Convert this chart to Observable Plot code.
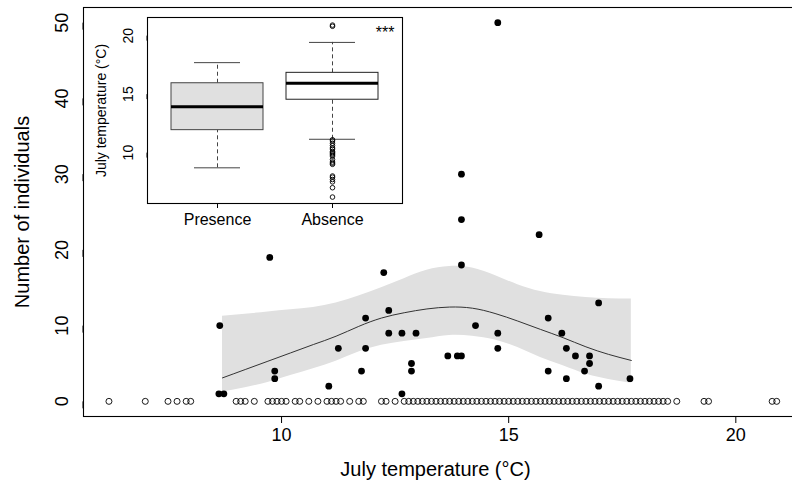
<!DOCTYPE html>
<html><head><meta charset="utf-8">
<script src="https://cdn.jsdelivr.net/npm/d3@7"></script>
<script src="https://cdn.jsdelivr.net/npm/@observablehq/plot@0.6"></script>
<style>
html,body{margin:0;padding:0;background:#fff;overflow:hidden;}
#wrap{position:relative;width:792px;height:486px;overflow:hidden;}
#wrap svg{position:absolute;left:0;top:0;max-width:none;}
</style></head><body><div id="wrap"></div>
<script>
// Presence sites: July temperature (°C) and number of individuals
const presenceTemp  = [8.64, 8.62, 8.73, 9.74, 9.85, 9.85, 11.04, 11.25, 11.76, 11.85, 11.85, 12.25, 12.36, 12.36, 12.65, 12.65, 12.96, 12.86, 12.86, 13.66, 13.87, 13.96, 13.96, 13.96, 13.96, 14.27, 14.76, 14.76, 14.76, 15.67, 15.87, 15.87, 16.17, 16.27, 16.27, 16.47, 16.67, 16.78, 16.78, 16.98, 16.98, 17.67];
const presenceCount = [10, 1, 1, 19, 4, 3, 2, 7, 4, 11, 7, 17, 12, 9, 9, 1, 9, 5, 4, 6, 6, 6, 30, 24, 18, 10, 9, 7, 50, 22, 11, 4, 9, 7, 3, 6, 4, 6, 5, 13, 2, 3];
// Absence sites (count 0): July temperature (°C)
const absenceTemp = [6.2, 7.0, 7.5, 7.7, 7.9, 8.0, 9.0, 9.1, 9.2, 9.4, 9.7, 9.8, 9.9, 10.0, 10.1, 10.3, 10.4, 10.6, 10.8, 11.0, 11.1, 11.2, 11.3, 11.5, 11.7, 11.8, 12.2, 12.3, 12.5, 12.7, 12.8, 12.9,
  13.0, 13.1, 13.2, 13.3, 13.4, 13.5, 13.6, 13.7, 13.8, 13.9, 14.0, 14.1, 14.2, 14.3, 14.4, 14.5, 14.6, 14.7, 14.8, 14.9,
  15.0, 15.1, 15.2, 15.3, 15.4, 15.5, 15.6, 15.7, 15.8, 15.9, 16.0, 16.1, 16.2, 16.3, 16.4, 16.5, 16.6, 16.7, 16.8, 16.9,
  17.0, 17.1, 17.2, 17.3, 17.4, 17.5, 17.6, 17.7, 17.8, 17.9, 18.0, 18.1, 18.2, 18.3, 18.4, 18.5, 18.7, 19.3, 19.4, 20.8, 20.9];
// Fitted curve and confidence band
const fitTemp  = [8.7, 9.2, 9.7, 10.2, 10.7, 11.2, 11.7, 12.2, 12.7, 13.2, 13.7, 14.2, 14.7, 15.2, 15.7, 16.2, 16.7, 17.2, 17.7];
const fitMean  = [3.1, 4.2, 5.3, 6.4, 7.5, 8.6, 9.9, 11.0, 11.7, 12.2, 12.45, 12.3, 11.6, 10.6, 9.5, 8.4, 7.2, 6.2, 5.4];
const fitLower = [1.2, 1.8, 2.5, 3.4, 4.3, 5.3, 6.5, 7.4, 7.9, 8.3, 8.7, 8.6, 8.1, 7.1, 5.8, 4.7, 3.6, 2.9, 2.4];
const fitUpper = [11.25, 11.5, 11.8, 12.1, 12.4, 13.0, 13.9, 15.0, 16.2, 17.3, 17.8, 17.6, 16.6, 15.4, 14.5, 14.0, 13.7, 13.55, 13.5];
// Inset boxplot statistics (July temperature, °C)
const boxGroups      = ["Presence", "Absence"];
const boxLowWhisker  = [8.7, 11.14];
const boxQ1          = [11.92, 14.52];
const boxMedian      = [13.93, 15.93];
const boxQ3          = [15.93, 16.82];
const boxHighWhisker = [17.69, 19.42];
// Tick labels
const xTicks = [10, 15, 20];
const yTicks = [0, 10, 20, 30, 40, 50];
const insetTicks = [10, 15, 20];

const points = presenceTemp.map((t, i) => ({temp: t, count: presenceCount[i]}));
const absent = absenceTemp.map(t => ({temp: t, count: 0}));
const fit = fitTemp.map((t, i) => ({temp: t, mean: fitMean[i], lo: fitLower[i], hi: fitUpper[i]}));
const boxes = boxGroups.map((g, i) => ({group: g, lw: boxLowWhisker[i], q1: boxQ1[i], median: boxMedian[i], q3: boxQ3[i], hw: boxHighWhisker[i]}));
const outliers = absenceTemp.filter(t => t < boxLowWhisker[1] || t > boxHighWhisker[1]).map(t => ({group: "Absence", temp: t}));

const font = "'Liberation Sans', Arial, Helvetica, sans-serif";
const wrap = document.getElementById("wrap");

const main = Plot.plot({
  width: 803, height: 486,
  marginLeft: 83, marginRight: 0, marginTop: 7, marginBottom: 70,
  style: {fontFamily: font, background: "transparent", color: "black"},
  x: {domain: [5.64, 21.49]},
  y: {domain: [-2, 52]},
  marks: [
    Plot.areaY(fit, {x: "temp", y1: "lo", y2: "hi", fill: "#e0e0e0", curve: "natural"}),
    Plot.lineY(fit, {x: "temp", y: "mean", stroke: "#333", strokeWidth: 1, curve: "natural"}),
    Plot.dot(absent, {x: "temp", y: "count", r: 3, stroke: "black", strokeWidth: 0.9, fill: "none"}),
    Plot.dot(points, {x: "temp", y: "count", r: 3.4, fill: "black"}),
    Plot.frame({stroke: "black", strokeWidth: 1.1}),
    Plot.axisX({ticks: xTicks, tickSize: 7, tickPadding: 5, fontSize: 18, label: null}),
    Plot.axisY({ticks: yTicks, tickSize: 7, tickPadding: 14, fontSize: 18, rotate: -90, textAnchor: "middle", label: null}),
    Plot.text(["July temperature (°C)"], {text: d => d, frameAnchor: "bottom", dx: -8, dy: 53, fontSize: 20, textAnchor: "middle", lineAnchor: "middle"}),
    Plot.text(["Number of individuals"], {text: d => d, frameAnchor: "left", dx: -61, rotate: -90, fontSize: 20, textAnchor: "middle", lineAnchor: "middle"})
  ]
});
wrap.appendChild(main);

const inset = Plot.plot({
  width: 420, height: 240,
  marginLeft: 147, marginTop: 17, marginRight: 18, marginBottom: 37,
  style: {fontFamily: font, background: "transparent", color: "black", overflow: "visible"},
  x: {type: "band", domain: boxGroups, padding: 0.2},
  y: {domain: [5.65, 21.55]},
  marks: [
    Plot.frame({fill: "white", stroke: "black", strokeWidth: 1.1}),
    Plot.ruleX(boxes, {x: "group", y1: "lw", y2: "q1", stroke: "#444", strokeDasharray: "4,3"}),
    Plot.ruleX(boxes, {x: "group", y1: "q3", y2: "hw", stroke: "#444", strokeDasharray: "4,3"}),
    Plot.tickY(boxes, {x: "group", y: "lw", inset: 23, stroke: "#444"}),
    Plot.tickY(boxes, {x: "group", y: "hw", inset: 23, stroke: "#444"}),
    Plot.barY(boxes, {filter: d => d.group === "Presence", x: "group", y1: "q1", y2: "q3", fill: "#e0e0e0", stroke: "#444"}),
    Plot.barY(boxes, {filter: d => d.group === "Absence", x: "group", y1: "q1", y2: "q3", fill: "white", stroke: "#222"}),
    Plot.tickY(boxes, {x: "group", y: "median", strokeWidth: 3, stroke: "black"}),
    Plot.dot(outliers, {x: "group", y: "temp", r: 2.3, stroke: "black", strokeWidth: 0.9, fill: "none"}),
    Plot.axisX({tickSize: 5, tickPadding: 5, fontSize: 16, label: null}),
    Plot.axisY({ticks: insetTicks, tickSize: 5, tickPadding: 14, fontSize: 14, rotate: -90, textAnchor: "middle", label: null}),
    Plot.text(["July temperature (°C)"], {text: d => d, frameAnchor: "left", dx: -46, rotate: -90, fontSize: 14, textAnchor: "middle", lineAnchor: "middle"}),
    Plot.text(["***"], {text: d => d, frameAnchor: "top-right", dx: -8, dy: 15, fontSize: 16, textAnchor: "end", lineAnchor: "middle"})
  ]
});
wrap.appendChild(inset);
</script></body></html>
